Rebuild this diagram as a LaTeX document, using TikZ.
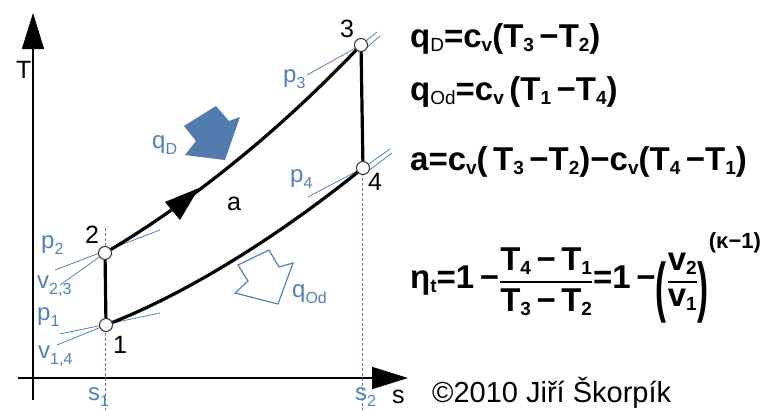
\documentclass[tikz,border=0pt]{standalone}
\usepackage{amsmath}
\usepackage{fontspec}
\setmainfont{Liberation Sans}
\usepackage{graphicx}
\usetikzlibrary{arrows.meta}
\definecolor{bl}{RGB}{84,128,186}
\definecolor{blfill}{RGB}{82,124,174}
\newcommand\fs[1]{\raisebox{-4pt}{\fontsize{19}{19}\selectfont #1}}
\newcommand\ls[1]{\raisebox{-6pt}{\fontsize{16}{16}\selectfont #1}}
\newcommand\bigpar[1]{\raisebox{-21pt}{\scalebox{1}[2.0]{#1}}}
\begin{document}
\begin{tikzpicture}[x=1pt,y=-1pt,
  axis/.style={line width=1.5pt,-{Triangle[length=36pt,width=22pt]}},
  cyc/.style={line width=3.2pt},
  bline/.style={bl,line width=0.8pt},
  bdash/.style={bl,line width=0.8pt,dash pattern=on 3pt off 2pt},
  state/.style={circle,draw=black!80,fill=white,line width=1pt,minimum size=13pt,inner sep=0pt},
  lbl/.style={font=\fontsize{25}{25}\selectfont,inner sep=0pt,anchor=base west},
  blbl/.style={text=bl,font=\fontsize{24}{24}\selectfont,inner sep=0pt,anchor=base west},
  formula/.style={font=\bfseries\fontsize{33}{36}\selectfont,inner sep=0pt,anchor=base west}]
\useasboundingbox (0,0) rectangle (769,410);
% axes
\coordinate (Tb) at (33,400); \coordinate (Tt) at (33,13);
\coordinate (sl) at (18,378); \coordinate (sr) at (408,378);
\draw[axis] (Tb) -- (Tt);
\draw[axis] (sl) -- (sr);
% dashed verticals
\coordinate (d1t) at (105,228); \coordinate (d1b) at (105,410);
\coordinate (d2t) at (362,168); \coordinate (d2b) at (362,410);
\draw[bdash] (d1t) -- (d1b);
\draw[bdash] (d2t) -- (d2b);
% blue tangent lines
\coordinate (p2a) at (55,270); \coordinate (p2b) at (160,230);
\coordinate (v2a) at (60,285);
\coordinate (p1a) at (60,334); \coordinate (p1b) at (160,313);
\coordinate (v1a) at (57,345);
\coordinate (p3a) at (307,75); \coordinate (v3a) at (377,32); \coordinate (v3b) at (365,49); \coordinate (v3c) at (380,36);
\coordinate (p4a) at (308,197); \coordinate (v4a) at (390,149); \coordinate (v4b) at (367,172); \coordinate (v4c) at (392,153);
\draw[bline] (p2a) -- (p2b);
\draw[bline] (v2a) -- (105,253);
\draw[bline] (p1a) -- (p1b);
\draw[bline] (v1a) -- (106,325);
\draw[bline] (p3a) -- (361,45);
\draw[bline] (361,45) -- (v3a);
\draw[bline] (v3b) -- (v3c);
\draw[bline] (p4a) -- (363,168);
\draw[bline] (363,168) -- (v4a);
\draw[bline] (v4b) -- (v4c);
% states
\node[state] (n1) at (106,325) {};
\node[state] (n2) at (105,253) {};
\node[state] (n3) at (361,45) {};
\node[state] (n4) at (363,168) {};
% cycle
\draw[cyc] (n2) .. controls (190,202) and (276,134) .. (n3);
\draw[cyc] (n1) .. controls (191,291) and (278,236) .. (n4);
\draw[cyc] (n1) -- (n2);
\draw[cyc] (n3) -- (n4);
\fill (165,202) -- (199,188) -- (180,220) -- cycle;
% heat arrows
\fill[blfill] (184,126) -- (216,106) -- (229,121) -- (240,117) -- (225,160) -- (185,155) -- (196,141) -- cycle;
\draw[bl,line width=1.2pt,line join=miter] (238,265) -- (269,250) -- (279,267) -- (293,263) -- (278,304) -- (235,293) -- (248,281) -- cycle;
% labels
\node[lbl] (lT) at (16,78) {T};
\node[lbl] (ls) at (392,403) {s};
\node[lbl] (l1) at (113,353) {1};
\node[lbl] (l2) at (85,243) {2};
\node[lbl] (l3) at (340,37) {3};
\node[lbl] (l4) at (368,190) {4};
\node[lbl] (la) at (227,210) {a};
\node[blbl] (lp2) at (41,248) {p\ls{2}};
\node[blbl] (lv23) at (37,288) {v\ls{2,3}};
\node[blbl] (lp1) at (37,320) {p\ls{1}};
\node[blbl] (lv14) at (38,358) {v\ls{1,4}};
\node[blbl] (lp3) at (283,82) {p\ls{3}};
\node[blbl] (lp4) at (290,182) {p\ls{4}};
\node[blbl] (lqD) at (152,148) {q\ls{D}};
\node[blbl] (lqOd) at (292,297) {q\ls{Od}};
\node[blbl] (ls1) at (88,400) {s\ls{1}};
\node[blbl] (ls2) at (355,400) {s\ls{2}};
% formulas
\node[formula] (f1) at (410,47) {q\fs{\mdseries D}=c\fs{v}(T\fs{3}\,−T\fs{2})};
\node[formula] (f2) at (410,100) {q\fs{\mdseries Od}=c\fs{v}\,(T\fs{1}\,−T\fs{4})};
\node[formula] (f3) at (410,170) {a=c\fs{v}(\,T\fs{3}\,−T\fs{2})−c\fs{v}(T\fs{4}\,−T\fs{1})};
\node[formula] (f4) at (410,288)
 {η\fs{t}=1\,−$\genfrac{}{}{2pt}{0}{\mbox{T\fs{4}\,−\,T\fs{1}}}{\mbox{T\fs{3}\,−\,T\fs{2}}}$=1\,−\bigpar{(}$\genfrac{}{}{2pt}{0}{\mbox{v\fs{2}}}{\mbox{v\fs{1}}}$\bigpar{)}\raisebox{40pt}{\fontsize{22}{22}\selectfont(κ−1)}};
\node[inner sep=0pt,anchor=base west,font=\fontsize{29}{29}\selectfont] (copy) at (432,402) {©2010 Jiří Škorpík};
\end{tikzpicture}
\end{document}
